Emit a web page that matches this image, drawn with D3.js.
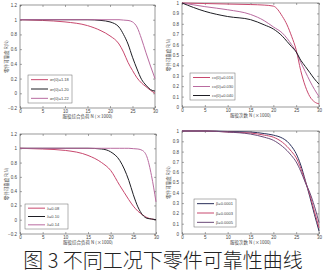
<!DOCTYPE html>
<html>
<head>
<meta charset="utf-8">
<script src="https://cdn.jsdelivr.net/npm/d3@7"></script>
<style>
  body { margin: 0; background: #fff; }
  text { font-family: "Liberation Sans", Arial, sans-serif; }
</style>
</head>
<body>
<div id="chart"></div>
<script>
// sample positions (x1000 cycles)
var xs = [0, 5, 10, 15, 18, 20, 22, 23, 24, 25, 26, 27, 28, 29, 30];

// panel (a) sigma values
var aLabels = ["σr(0)=1.18", "σr(0)=1.20", "σr(0)=1.22"];
var aRed   = [1, 0.99, 0.97, 0.92, 0.85, 0.78, 0.67, 0.56, 0.42, 0.31, 0.21, 0.14, 0.09, 0.04, 0.0];
var aBlack = [1, 1, 1, 1, 0.99, 0.97, 0.9, 0.8, 0.67, 0.49, 0.33, 0.19, 0.11, 0.05, 0.03];
var aPink  = [1, 1, 1, 1, 1, 1, 1, 0.995, 0.99, 0.97, 0.9, 0.74, 0.55, 0.37, 0.2];

// panel (b) coefficient of variation
var bLabels = ["cv(0)=0.016", "cv(0)=0.030", "cv(0)=0.040"];
var bRed   = [1, 0.995, 0.99, 0.985, 0.98, 0.97, 0.87, 0.79, 0.68, 0.55, 0.35, 0.2, 0.1, 0.05, 0.03];
var bPink  = [1, 0.965, 0.935, 0.89, 0.83, 0.77, 0.71, 0.66, 0.6, 0.53, 0.43, 0.34, 0.25, 0.17, 0.1];
var bBlack = [1, 0.92, 0.87, 0.84, 0.79, 0.75, 0.68, 0.63, 0.58, 0.53, 0.45, 0.39, 0.33, 0.27, 0.22];

// panel (c) lambda
var cLabels = ["λ=0.08", "λ=0.10", "λ=0.14"];
var cRed   = [1, 0.99, 0.97, 0.9, 0.8, 0.69, 0.48, 0.38, 0.28, 0.19, 0.12, 0.07, 0.03, 0.01, 0.0];
var cBlack = [1, 1, 1, 1, 0.99, 0.95, 0.83, 0.71, 0.55, 0.35, 0.18, 0.07, 0.02, 0.01, 0.0];
var cPink  = [1, 1, 1, 1, 1, 1, 1, 1, 1, 0.995, 0.99, 0.97, 0.88, 0.62, 0.25];

// panel (d) beta
var dLabels = ["β=0.0001", "β=0.0003", "β=0.0005"];
var dNavy   = [1, 1, 0.995, 0.99, 0.975, 0.96, 0.93, 0.9, 0.85, 0.78, 0.67, 0.52, 0.36, 0.19, 0.03];
var dRed    = [1, 1, 0.99, 0.98, 0.96, 0.94, 0.89, 0.85, 0.8, 0.74, 0.64, 0.51, 0.38, 0.22, 0.06];
var dPurple = [1, 1, 0.99, 0.97, 0.94, 0.91, 0.85, 0.81, 0.76, 0.7, 0.61, 0.5, 0.4, 0.27, 0.11];

var xTicks = [0, 5, 10, 15, 20, 25, 30];
var yTicksWide = [-0.2, 0, 0.2, 0.4, 0.6, 0.8, 1, 1.2];
var yTicksUnit = [0, 0.1, 0.2, 0.3, 0.4, 0.5, 0.6, 0.7, 0.8, 0.9, 1];

var RED = "#c8486e", PINK = "#b96ba0", BLACK = "#1e1e24", NAVY = "#2a2f5a", PURPLE = "#6a4a78";

var svg = d3.select("#chart").append("svg")
  .attr("width", 325)
  .attr("height", 275);

var panels = [
  { box: [20, 155, 5, 108], yDom: [-0.2, 1.2], yTicks: yTicksWide,
    xTitle: "服役综合负荷 N (×1000)",
    series: [aRed, aBlack, aPink], colors: [RED, BLACK, PINK], labels: aLabels,
    legend: [28, 75, 44, 28] },
  { box: [182, 319, 3, 107], yDom: [0, 1], yTicks: yTicksUnit,
    xTitle: "服役次数 N (×1000)",
    series: [bRed, bPink, bBlack], colors: [RED, PINK, BLACK], labels: bLabels,
    legend: [190, 73, 45, 27] },
  { box: [20, 156, 134, 234], yDom: [-0.2, 1.2], yTicks: yTicksWide,
    xTitle: "服役综合负荷 N (×1000)",
    series: [cRed, cBlack, cPink], colors: [RED, BLACK, PINK], labels: cLabels,
    legend: [25, 204, 43, 25] },
  { box: [182, 319, 131, 234], yDom: [0, 1], yTicks: yTicksUnit,
    xTitle: "服役次数 N (×1000)",
    series: [dNavy, dRed, dPurple], colors: [NAVY, RED, PURPLE], labels: dLabels,
    legend: [194, 199, 42, 28] }
];

panels.forEach(function (p) {
  var x = d3.scaleLinear().domain([0, 30]).range([p.box[0], p.box[1]]);
  var y = d3.scaleLinear().domain(p.yDom).range([p.box[3], p.box[2]]);
  var g = svg.append("g");

  // inward ticks on all four sides, MATLAB style
  g.append("g").attr("transform", `translate(0,${p.box[3]})`)
    .call(d3.axisBottom(x).tickValues(xTicks).tickSize(-2).tickPadding(2))
    .call(s => s.select(".domain").remove());
  g.append("g").attr("transform", `translate(0,${p.box[2]})`)
    .call(d3.axisTop(x).tickValues(xTicks).tickSize(-2).tickFormat(""))
    .call(s => s.select(".domain").remove());
  g.append("g").attr("transform", `translate(${p.box[0]},0)`)
    .call(d3.axisLeft(y).tickValues(p.yTicks).tickSize(-2).tickPadding(3).tickFormat(d3.format("~g")))
    .call(s => s.select(".domain").remove());
  g.append("g").attr("transform", `translate(${p.box[1]},0)`)
    .call(d3.axisRight(y).tickValues(p.yTicks).tickSize(-2).tickFormat(""))
    .call(s => s.select(".domain").remove());
  g.selectAll(".tick line").attr("stroke", "#555").attr("stroke-width", 0.5);
  g.selectAll(".tick text").attr("font-size", 4.5).attr("fill", "#444");

  g.append("rect")
    .attr("x", p.box[0]).attr("y", p.box[2])
    .attr("width", p.box[1] - p.box[0]).attr("height", p.box[3] - p.box[2])
    .attr("fill", "none").attr("stroke", "#555").attr("stroke-width", 0.6);

  var line = d3.line()
    .x((d, i) => x(xs[i]))
    .y(d => y(d))
    .curve(d3.curveMonotoneX);

  p.series.forEach(function (s, k) {
    g.append("path").datum(s)
      .attr("d", line)
      .attr("fill", "none")
      .attr("stroke", p.colors[k])
      .attr("stroke-width", 1);
  });

  // legend
  var L = p.legend;
  g.append("rect").attr("x", L[0]).attr("y", L[1]).attr("width", L[2]).attr("height", L[3])
    .attr("fill", "#fff").attr("stroke", "#666").attr("stroke-width", 0.5);
  p.labels.forEach(function (lab, k) {
    var ly = L[1] + L[3] * (k + 0.5) / 3;
    g.append("line").attr("x1", L[0] + 3).attr("x2", L[0] + 20)
      .attr("y1", ly).attr("y2", ly)
      .attr("stroke", p.colors[k]).attr("stroke-width", 1);
    g.append("text").attr("x", L[0] + 22).attr("y", ly + 1.5)
      .attr("font-size", 4).attr("fill", "#444").text(lab);
  });

  // axis titles
  g.append("text")
    .attr("x", (p.box[0] + p.box[1]) / 2).attr("y", p.box[3] + 10)
    .attr("text-anchor", "middle").attr("font-size", 4.5).attr("fill", "#444")
    .style("font-family", "'Noto Sans CJK SC'")
    .text(p.xTitle);
  g.append("text")
    .attr("transform", `translate(${p.box[0] - 12},${(p.box[2] + p.box[3]) / 2}) rotate(-90)`)
    .attr("text-anchor", "middle").attr("font-size", 4.5).attr("fill", "#444")
    .style("font-family", "'Noto Sans CJK SC'")
    .text("零件可靠度 R(N)");
});

svg.append("text")
  .attr("x", 163).attr("y", 268)
  .attr("text-anchor", "middle")
  .attr("font-size", 20)
  .attr("fill", "#222")
  .style("font-family", "'Noto Sans CJK SC'")
  .style("font-weight", 300)
  .text("图 3 不同工况下零件可靠性曲线");
</script>
</body>
</html>
